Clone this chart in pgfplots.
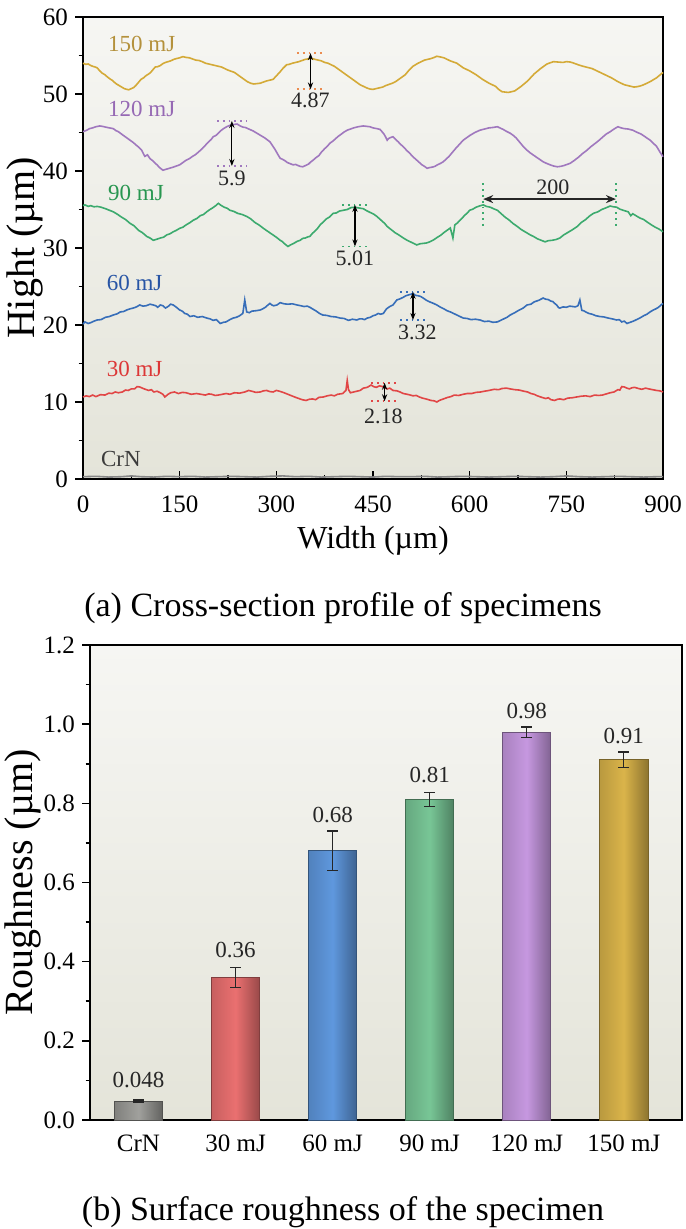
\documentclass[border=0pt]{standalone}
\usepackage{fontspec}
\setmainfont{Liberation Serif}
\usepackage{pgfplots}
\pgfplotsset{compat=1.18}
\usetikzlibrary{arrows.meta}

\newcommand\fs[1]{\fontsize{#1}{#1}\selectfont}

% line colours
\definecolor{lGold}{RGB}{212,170,55}
\definecolor{lPurple}{RGB}{160,120,190}
\definecolor{lGreen}{RGB}{60,170,110}
\definecolor{lBlue}{RGB}{55,110,185}
\definecolor{lRed}{RGB}{225,70,70}
\definecolor{lGray}{RGB}{135,135,135}
% label colours
\definecolor{tGold}{RGB}{180,145,60}
\definecolor{tPurple}{RGB}{150,105,180}
\definecolor{tGreen}{RGB}{40,150,80}
\definecolor{tBlue}{RGB}{40,85,165}
\definecolor{tRed}{RGB}{220,55,55}
\definecolor{tGray}{RGB}{60,60,60}
\definecolor{dOrange}{RGB}{235,140,80}
% bar colours
\definecolor{bCrN}{RGB}{150,150,146}
\definecolor{b30}{RGB}{234,112,112}
\definecolor{b60}{RGB}{95,152,222}
\definecolor{b90}{RGB}{120,198,150}
\definecolor{b120}{RGB}{198,152,224}
\definecolor{b150}{RGB}{218,180,74}
% backgrounds
\definecolor{bgTop}{RGB}{246,246,243}
\definecolor{bgBot}{RGB}{228,228,217}

\pgfplotsset{
    every axis/.append style={
        scale only axis,
        axis line style={line width=1pt},
        every tick/.style={black, line width=0.8pt},
        major tick length=4pt,
        minor tick length=2.2pt,
        tick label style={font=\fs{12.5}},
        /pgf/number format/assume math mode=true,
        label style={font=\fs{16}},
        axis background/.style={top color=bgTop, bottom color=bgBot},
    },
    prof/.style={line width=0.8pt},
    bar/.style={ybar, bar width=0.5, bar shift=0pt, line width=0.5pt},
}
\tikzset{
    dot/.style={dotted, line width=0.9pt},
    arr/.style={{Stealth[length=3.5pt,width=2.6pt]}-{Stealth[length=3.5pt,width=2.6pt]}, line width=0.6pt, black},
    ann/.style={font=\fs{11}, text=black!85},
    lab/.style={font=\fs{11.5}, anchor=west},
}

\begin{document}
\begin{tikzpicture}
\path[use as bounding box] (0pt,0pt) rectangle (342.5pt,-614.5pt);

% ---------------- (a) profiles ----------------
\begin{axis}[
    at={(41.5pt,-8.5pt)}, anchor=north west,
    width=290pt, height=231pt,
    xmin=0, xmax=900, ymin=0, ymax=60,
    xtick={0,150,...,900}, minor xtick={75,225,...,825},
    ytick={0,10,...,60}, minor ytick={5,15,...,55},
    tick pos=left, xtick align=inside, ytick align=outside,
    xticklabel style={yshift=-5pt},
    xlabel={Width (µm)}, ylabel={Hight (µm)},
    ylabel style={font=\fs{20}, at={(axis description cs:-0.1,0.5)}, anchor=center},
    clip=false,
]

\addplot[prof, lGray] table {
0 0.30
20 0.35
40 0.25
60 0.30
75 0.40
90 0.30
110 0.25
130 0.35
150 0.30
170 0.35
190 0.25
210 0.30
230 0.35
250 0.30
270 0.25
290 0.35
310 0.40
330 0.30
350 0.35
370 0.25
390 0.30
410 0.35
430 0.30
450 0.25
470 0.35
490 0.30
510 0.30
530 0.35
550 0.25
570 0.30
590 0.35
610 0.30
630 0.25
650 0.30
670 0.35
690 0.30
710 0.25
730 0.30
750 0.40
770 0.30
790 0.25
810 0.30
830 0.35
850 0.30
870 0.25
890 0.30
900 0.30
};

\addplot[prof, lRed] table {
0 10.65
5 10.8
10 10.7
15 10.9
20 10.7
27 10.95
34 10.9
40 11.15
45 11.1
50 11.3
55 11.2
61 11.3
66 11.55
70 11.5
75 11.7
80 11.7
84 12.0
88 11.95
95 11.7
102 11.5
106 11.6
110 11.3
115 11.4
120 11.2
124 11.0
127 10.65
132 11.0
136 11.2
142 11.3
148 11.1
154 11.25
160 11.2
168 11.0
176 11.1
183 11.0
190 10.9
195 11.05
200 11.0
205 10.85
210 10.9
216 11.0
222 11.1
228 11.0
235 11.2
243 11.15
251 11.3
257 11.5
262 11.4
268 11.25
275 11.3
280 11.45
285 11.5
290 11.35
295 11.3
300 11.5
305 11.4
312 11.2
318 11.0
324 10.8
330 10.6
335 10.45
340 10.3
346 10.2
351 10.35
356 10.4
361 10.3
366 10.6
373 10.65
379 10.8
385 10.9
390 10.8
395 11.0
399 11.05
403 11.1
408 11.5
410 12.8
412 11.6
415 11.2
420 11.3
425 11.4
430 11.5
435 11.8
441 11.9
447 12.2
451 12.0
455 11.9
460 12.1
465 12.0
472 11.7
476 11.8
481 11.5
487 11.45
492 11.3
497 11.1
503 11.0
508 10.9
512 10.8
517 10.85
522 10.65
527 10.5
532 10.4
536 10.3
540 10.2
545 10.15
549 10.0
553 10.2
556 10.3
561 10.45
566 10.6
571 10.7
576 10.9
583 10.85
590 11.0
596 11.1
603 11.1
610 11.25
617 11.3
623 11.4
630 11.5
638 11.65
645 11.6
650 11.75
657 11.8
663 11.7
670 11.6
677 11.55
684 11.4
690 11.3
695 11.1
700 11.0
705 10.8
712 10.6
718 10.45
722 10.55
726 10.3
732 10.2
736 10.35
740 10.4
746 10.3
752 10.5
759 10.55
766 10.65
773 10.75
780 10.8
787 10.7
794 10.9
800 10.85
806 10.9
812 11.05
818 11.2
824 11.3
830 11.6
833 11.55
836 12.0
840 11.95
844 11.8
848 11.7
852 11.85
856 11.9
862 11.75
867 11.65
873 11.8
878 11.7
884 11.6
890 11.5
895 11.45
900 11.3
};

\addplot[prof, lBlue] table {
0 20.1
3 20.4
8 20.2
12 20.3
17 20.5
22 20.65
28 20.7
35 21.0
41 21.1
47 21.3
53 21.45
58 21.7
63 21.75
68 21.95
73 22.1
78 22.2
83 22.35
88 22.6
93 22.45
98 22.5
104 22.7
109 22.6
113 22.5
116 22.3
120 22.6
124 22.5
128 22.2
132 22.4
136 22.7
140 22.6
145 22.3
150 21.95
154 21.8
158 21.5
162 21.4
166 21.1
172 21.2
178 21.0
185 21.1
192 20.9
197 20.8
202 20.6
207 20.7
213 20.2
218 20.35
222 20.4
228 20.7
233 20.9
238 21.0
243 21.2
248 21.5
251 23.25
254 21.7
258 21.6
262 21.8
268 21.85
275 21.95
279 22.1
283 22.3
287 22.6
290 22.8
293 22.6
296 22.5
301 22.6
306 22.9
312 22.75
318 22.7
325 22.75
332 22.6
338 22.5
343 22.4
348 22.45
352 22.3
357 22.05
362 21.8
367 21.5
372 21.3
378 21.25
385 21.1
392 21.05
399 20.9
405 20.85
412 20.6
418 20.75
425 20.65
429 20.8
433 20.8
437 20.7
441 20.9
446 21.0
450 21.2
454 21.3
458 21.5
462 21.4
466 21.5
471 22.1
476 22.4
481 22.6
487 23.25
492 23.4
497 23.6
501 23.8
505 23.9
509 24.0
512 24.1
516 23.85
520 23.8
524 23.7
528 23.5
533 23.2
538 23.0
544 22.8
549 22.6
555 22.3
560 22.1
565 21.85
570 21.7
575 21.5
580 21.3
585 21.1
590 20.9
596 20.85
602 20.7
609 20.75
616 20.65
623 20.45
630 20.5
636 20.35
643 20.4
648 20.6
653 20.8
658 21.0
663 21.3
670 21.6
676 21.9
683 22.2
689 22.6
695 22.7
700 23.0
707 23.2
714 23.5
718 23.35
722 23.3
726 23.1
729 23.05
732 22.8
735 22.6
738 22.25
740 22.2
745 22.35
750 22.3
755 22.45
760 22.4
764 22.35
768 22.5
771 23.25
774 21.9
777 21.85
780 21.7
785 21.5
790 21.4
796 21.2
802 21.1
808 21.05
815 20.9
821 20.8
828 20.65
832 20.7
836 20.4
840 20.5
844 20.2
849 20.35
854 20.5
859 20.7
864 20.9
870 21.2
875 21.4
880 21.7
885 21.95
889 22.1
893 22.3
897 22.6
900 22.8
};

\addplot[prof, lGreen] table {
0 35.5
3 35.6
8 35.4
12 35.5
17 35.35
22 35.4
28 35.3
35 35.1
41 34.9
47 34.7
53 34.4
60 34.0
66 33.7
73 33.2
79 32.9
86 32.3
92 32.0
99 31.5
104 31.3
109 31.0
115 31.15
120 31.3
125 31.4
130 31.7
135 31.85
140 32.1
145 32.3
150 32.55
155 32.7
160 33.0
166 33.3
171 33.6
177 33.85
182 34.2
187 34.35
192 34.7
197 35.0
201 35.2
206 35.5
210 35.8
214 35.55
219 35.3
224 35.15
228 34.9
234 34.75
240 34.5
247 34.35
254 34.1
260 33.8
267 33.3
273 33.0
280 32.55
286 32.2
293 31.8
300 31.4
306 31.0
309 30.85
312 30.6
315 30.4
318 30.2
322 30.4
327 30.6
332 30.85
337 31.0
341 31.25
345 31.3
349 31.45
352 31.5
356 31.9
360 32.2
364 32.55
368 33.0
373 33.4
378 33.8
383 34.05
388 34.5
393 34.55
398 34.8
404 34.9
410 35.0
416 35.25
422 35.3
428 35.2
435 35.1
440 34.85
446 34.6
451 34.4
456 34.1
460 33.8
464 33.5
468 33.2
472 32.8
478 32.4
484 32.0
490 31.7
497 31.3
502 31.05
508 30.8
513 30.6
518 30.4
523 30.55
528 30.6
533 30.65
538 30.8
544 31.05
550 31.4
555 31.65
560 32.0
565 32.3
570 32.6
574 31.3
577 33.0
581 33.25
585 33.6
589 33.95
593 34.3
597 34.6
600 34.9
605 35.05
610 35.3
615 35.45
621 35.6
626 35.4
632 35.3
637 35.1
643 34.9
649 34.45
655 34.0
661 33.65
667 33.2
673 32.85
680 32.4
687 32.05
694 31.7
699 31.5
705 31.2
711 31.0
717 30.8
722 30.95
728 31.0
734 31.1
740 31.3
746 31.7
752 32.0
759 32.35
767 32.8
773 33.3
780 33.7
786 34.15
792 34.5
799 34.7
805 35.0
811 35.2
818 35.45
823 35.35
828 35.3
833 35.05
838 34.9
842 34.8
846 34.7
850 34.2
853 34.45
856 34.3
860 34.1
864 33.9
870 33.7
875 33.4
882 33.0
888 32.7
894 32.45
900 32.1
};

\addplot[prof, lPurple] table {
0 45.1
6 45.3
10 45.5
15 45.6
20 45.75
26 45.85
30 45.8
35 45.7
41 45.6
47 45.5
51 45.25
55 45.1
59 44.85
63 44.6
68 44.3
73 44.0
78 43.7
82 43.4
87 43.05
91 42.7
94 42.2
96 41.9
100 42.1
104 41.6
108 41.35
112 41.0
115 40.8
118 40.5
121 40.3
124 40.1
128 40.2
132 40.3
136 40.4
140 40.5
145 40.65
150 40.8
155 41.1
160 41.4
165 41.6
170 41.9
174 42.1
177 42.3
181 42.6
185 42.9
190 43.35
195 43.8
199 44.1
202 44.45
206 44.6
210 44.9
214 45.25
218 45.5
220 45.6
223 45.75
227 45.9
231 46.0
235 46.05
239 46.1
244 45.85
248 45.7
252 45.65
256 45.5
260 45.35
264 45.2
268 45.0
272 44.8
277 44.55
282 44.3
286 44.05
290 43.8
294 43.3
298 42.8
302 42.2
306 41.65
310 41.5
314 41.3
317 41.1
320 41.0
323 40.9
326 40.8
330 40.85
334 40.7
337 40.6
341 40.55
345 40.7
350 40.9
353 41.15
357 41.4
361 41.7
366 42.0
370 42.45
375 42.9
379 43.2
383 43.6
388 43.9
392 44.2
396 44.5
401 44.8
405 45.05
410 45.3
415 45.45
420 45.6
427 45.75
435 45.85
440 45.8
445 45.75
450 45.6
456 45.5
461 45.4
464 45.1
467 44.8
470 44.35
472 44.0
474 44.2
476 44.3
479 44.4
481 44.45
485 44.1
489 43.8
493 43.45
497 43.15
502 42.7
507 42.3
512 41.85
518 41.4
522 41.1
526 40.8
530 40.6
534 40.35
538 40.45
542 40.5
546 40.6
550 40.8
555 41.0
559 41.2
563 41.5
568 41.9
573 42.4
578 42.9
584 43.45
590 44.0
595 44.3
600 44.6
604 44.8
608 45.0
612 45.15
616 45.3
623 45.45
630 45.6
636 45.65
643 45.75
648 45.55
652 45.4
657 45.15
663 44.9
668 44.6
672 44.3
676 43.9
680 43.5
684 43.1
689 42.7
694 42.35
700 42.0
707 41.6
714 41.2
719 41.0
725 40.8
730 40.65
736 40.55
741 40.6
746 40.7
751 40.85
756 41.0
762 41.35
769 41.8
775 42.25
782 42.7
788 43.15
795 43.6
801 44.0
807 44.45
812 44.8
818 45.1
824 45.45
830 45.75
835 45.6
840 45.5
846 45.45
853 45.3
859 45.05
866 44.8
873 44.4
880 44.0
885 43.6
890 43.2
895 42.5
900 41.85
};

\addplot[prof, lGold] table {
0 54.0
4 53.85
8 53.9
12 53.7
15 53.6
19 53.5
22 53.4
26 53.0
30 52.7
34 52.5
38 52.2
42 51.95
45 51.8
49 51.5
52 51.3
56 51.1
60 50.9
64 50.7
68 50.6
71 50.55
75 50.7
79 50.85
82 51.1
86 51.5
90 51.9
94 52.1
98 52.4
102 52.6
105 52.8
109 53.2
112 53.5
116 53.55
120 53.7
124 53.95
128 54.1
132 54.2
136 54.3
141 54.5
145 54.6
150 54.7
155 54.85
160 54.75
165 54.7
170 54.55
175 54.4
180 54.35
185 54.2
190 54.0
195 53.9
200 53.8
205 53.7
210 53.6
215 53.5
220 53.3
225 53.1
230 52.95
235 52.8
240 52.5
245 52.2
250 51.9
255 51.6
260 51.4
265 51.3
270 51.35
275 51.4
280 51.55
285 51.7
290 51.8
295 51.9
300 52.35
305 52.8
310 53.3
316 53.8
320 53.85
325 54.0
330 54.1
335 54.2
340 54.35
345 54.5
349 54.55
352 54.6
356 54.6
360 54.5
365 54.4
370 54.3
375 54.1
380 54.0
385 53.8
390 53.6
395 53.3
400 53.0
405 52.7
410 52.4
415 52.1
420 51.8
425 51.5
430 51.2
435 51.0
440 50.8
445 50.65
450 50.6
455 50.7
460 50.8
465 50.9
470 51.1
475 51.25
480 51.4
485 51.6
490 51.9
495 52.2
500 52.5
506 53.1
512 53.6
516 53.8
520 54.0
525 54.2
530 54.4
535 54.5
540 54.6
545 54.75
549 54.9
555 54.8
560 54.7
565 54.5
570 54.3
575 54.15
580 54.0
585 53.7
590 53.4
595 53.2
600 53.0
605 52.75
610 52.5
615 52.2
620 51.9
625 51.65
630 51.4
635 51.2
640 51.0
645 50.6
650 50.3
655 50.25
660 50.2
665 50.3
670 50.4
675 50.7
680 51.0
685 51.35
690 51.7
695 52.15
700 52.6
705 52.95
710 53.3
715 53.6
720 53.9
725 54.05
730 54.2
737 54.15
745 54.1
750 54.2
756 54.15
760 54.05
765 53.9
770 53.75
776 53.6
783 53.45
790 53.3
795 53.1
800 52.9
805 52.7
810 52.5
815 52.3
820 52.1
825 51.85
830 51.6
835 51.4
840 51.2
845 51.1
850 51.0
855 50.9
860 50.95
865 51.05
870 51.2
875 51.4
880 51.6
885 51.85
890 52.1
895 52.45
900 52.8
};

% series labels
\node[lab, text=tGold]   at (28,56.5)  {150 mJ};
\node[lab, text=tPurple] at (28,48.1)  {120 mJ};
\node[lab, text=tGreen]  at (28,37.2)  {90 mJ};
\node[lab, text=tBlue]   at (26,25.4)  {60 mJ};
\node[lab, text=tRed]    at (26,14.35) {30 mJ};
\node[lab, text=tGray]   at (17,2.6)   {CrN};

% peak-to-valley marks
\draw[dot, dOrange] (332,55.3) -- (375,55.3);
\draw[dot, dOrange] (332,50.6) -- (375,50.6);
\draw[arr] (353,55.3) -- (353,50.6);
\node[ann] at (353,49.2) {4.87};

\draw[dot, lPurple] (208,46.5) -- (254,46.5);
\draw[dot, lPurple] (208,40.65) -- (254,40.65);
\draw[arr] (231,46.5) -- (231,40.65);
\node[ann] at (231,39.1) {5.9};

\draw[dot, lGreen] (402,35.6) -- (442,35.6);
\draw[dot, lGreen] (402,30.2) -- (442,30.2);
\draw[arr] (422,35.6) -- (422,30.2);
\node[ann] at (422,28.7) {5.01};

\draw[dot, lGreen] (621,38.4) -- (621,32.6);
\draw[dot, lGreen] (827,38.4) -- (827,32.6);
\draw[{Stealth[length=5pt,width=4pt]}-{Stealth[length=5pt,width=4pt]}, line width=1.1pt, black!85] (621,36.35) -- (827,36.35);
\node[ann] at (729,37.9) {200};

\draw[dot, lBlue] (492,24.3) -- (535,24.3);
\draw[dot, lBlue] (492,20.65) -- (535,20.65);
\draw[arr] (512,24.3) -- (512,20.65);
\node[ann] at (519,19.1) {3.32};

\draw[dot, lRed] (447,12.5) -- (488,12.5);
\draw[dot, lRed] (447,10.1) -- (488,10.1);
\draw[arr] (468,12.5) -- (468,10.1);
\node[ann] at (466,8.2) {2.18};
\end{axis}

\node[font=\fs{17}] at (171.5pt,-304pt) {(a) Cross-section profile of specimens};

% ---------------- (b) roughness ----------------
\begin{axis}[
    at={(45pt,-322.5pt)}, anchor=north west,
    width=296pt, height=237.5pt,
    xmin=-0.5, xmax=5.6, ymin=0, ymax=1.2,
    xtick={0,1,2,3,4,5},
    xticklabels={CrN, 30 mJ, 60 mJ, 90 mJ, 120 mJ, 150 mJ},
    x tick style={draw=none},
    xticklabel style={yshift=-4pt},
    ytick={0,0.2,0.4,0.6,0.8,1.0,1.2},
    minor ytick={0.1,0.3,0.5,0.7,0.9,1.1},
    yticklabel style={/pgf/number format/fixed, /pgf/number format/fixed zerofill, /pgf/number format/precision=1},
    tick pos=left, ytick align=outside,
    ylabel={Roughness (µm)},
    ylabel style={font=\fs{20}, at={(axis description cs:-0.113,0.5)}, anchor=center},
]
\addplot[bar, draw=bCrN!55!black, left color=bCrN!85!black, right color=bCrN!65!black, middle color=bCrN!90!white] coordinates {(0,0.048)};
\addplot[bar, draw=b30!55!black, left color=b30!85!black, right color=b30!65!black, middle color=b30] coordinates {(1,0.36)};
\addplot[bar, draw=b60!55!black, left color=b60!85!black, right color=b60!65!black, middle color=b60] coordinates {(2,0.68)};
\addplot[bar, draw=b90!55!black, left color=b90!85!black, right color=b90!65!black, middle color=b90] coordinates {(3,0.81)};
\addplot[bar, draw=b120!55!black, left color=b120!85!black, right color=b120!65!black, middle color=b120] coordinates {(4,0.98)};
\addplot[bar, draw=b150!55!black, left color=b150!85!black, right color=b150!65!black, middle color=b150] coordinates {(5,0.91)};

\addplot[draw=none, mark=none,
    error bars/.cd, y dir=both, y explicit,
    error mark=-,
    error bar style={draw=black!85, line width=0.7pt},
    error mark options={rotate=90, draw=black!85, line width=0.7pt, mark size=2.7pt}]
    table[x=x, y=y, y error=e] {
x y e
0 0.048 0.003
1 0.36 0.025
2 0.68 0.05
3 0.81 0.018
4 0.98 0.013
5 0.91 0.02
};

\addplot[draw=none, mark=none, nodes near coords, point meta=explicit symbolic,
    nodes near coords style={anchor=center, font=\fs{11.5}, text=black!85}]
    table[x=x, y=y, meta=t] {
x y t
0 0.100 0.048
1 0.429 0.36
2 0.771 0.68
3 0.872 0.81
4 1.033 0.98
5 0.971 0.91
};
\end{axis}

\node[font=\fs{17}] at (171.5pt,-606pt) {(b) Surface roughness of the specimen};
\end{tikzpicture}
\end{document}
